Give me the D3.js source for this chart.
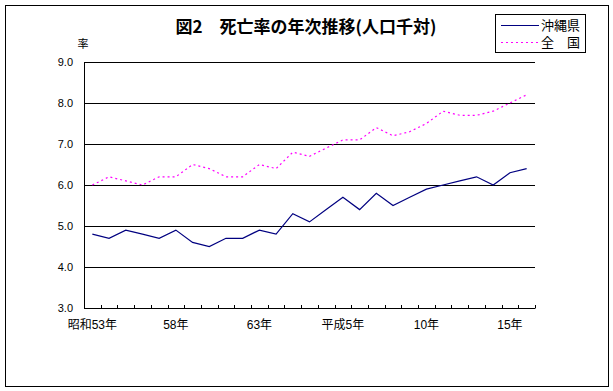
<!DOCTYPE html>
<html>
<head>
<meta charset="utf-8">
<style>
  body { margin: 0; background: #fff; }
  text { font-family: "Liberation Sans", "Noto Sans CJK JP", sans-serif; fill: #000; }
</style>
<title>図2 死亡率の年次推移</title>
</head>
<body>
<script src="https://cdn.jsdelivr.net/npm/d3@7/dist/d3.min.js"></script>
<script>
  // years: 昭和53年 .. 平成16年
  var years = ["S53","S54","S55","S56","S57","S58","S59","S60","S61","S62","S63",
               "H1","H2","H3","H4","H5","H6","H7","H8","H9","H10","H11","H12","H13","H14","H15","H16"];
  var okinawa = [4.8,4.7,4.9,4.8,4.7,4.9,4.6,4.5,4.7,4.7,4.9,4.8,5.3,5.1,5.4,5.7,5.4,5.8,5.5,5.7,5.9,6.0,6.1,6.2,6.0,6.3,6.4];
  var zenkoku = [6.0,6.2,6.1,6.0,6.2,6.2,6.5,6.4,6.2,6.2,6.5,6.4,6.8,6.7,6.9,7.1,7.1,7.4,7.2,7.3,7.5,7.8,7.7,7.7,7.8,8.0,8.2];
  var tickYears = ["S53","S58","S63","H5","H10","H15"];
  var tickLabels = ["昭和53年","58年","63年","平成5年","10年","15年"];
  var yTicks = [3,4,5,6,7,8,9];

  var W = 613, H = 391;
  var svg = d3.select("body").append("svg")
    .attr("width", W).attr("height", H);

  // outer frame
  svg.append("rect")
    .attr("x", 5.5).attr("y", 5.5)
    .attr("width", 603).attr("height", 381)
    .attr("fill", "none").attr("stroke", "#000");

  var x = d3.scaleBand().domain(years).range([84, 535]);
  var y = d3.scaleLinear().domain([3, 9]).range([308, 62]);

  // gridlines
  svg.append("g").selectAll("line")
    .data(yTicks.slice(1))
    .enter().append("line")
    .attr("x1", 84).attr("x2", 535)
    .attr("y1", d => Math.round(y(d)) + 0.5)
    .attr("y2", d => Math.round(y(d)) + 0.5)
    .attr("stroke", "#000");

  // y axis
  svg.append("line")
    .attr("x1", 84.5).attr("x2", 84.5)
    .attr("y1", y(9)).attr("y2", y(3) + 0.5)
    .attr("stroke", "#000");
  svg.append("g").selectAll("text")
    .data(yTicks)
    .enter().append("text")
    .attr("x", 73)
    .attr("y", d => y(d) + 4)
    .attr("text-anchor", "end")
    .style("font-size", "11px")
    .text(d => d.toFixed(1));

  // x axis
  svg.append("line")
    .attr("x1", 84).attr("x2", 535.5)
    .attr("y1", y(3) + 0.5).attr("y2", y(3) + 0.5)
    .attr("stroke", "#000");
  var bounds = years.map(d => x(d)).concat([x.range()[1]]);
  svg.append("g").selectAll("line")
    .data(bounds)
    .enter().append("line")
    .attr("x1", d => Math.round(d) + 0.5).attr("x2", d => Math.round(d) + 0.5)
    .attr("y1", y(3) - 3).attr("y2", y(3))
    .attr("stroke", "#000");
  svg.append("g").selectAll("text")
    .data(tickYears)
    .enter().append("text")
    .attr("x", d => x(d) + x.bandwidth() / 2)
    .attr("y", 329)
    .attr("text-anchor", "middle")
    .style("font-size", "12px")
    .text((d, i) => tickLabels[i]);

  // lines
  var line = d3.line()
    .x((d, i) => x(years[i]) + x.bandwidth() / 2)
    .y(d => y(d));
  svg.append("path").datum(zenkoku)
    .attr("d", line)
    .attr("fill", "none")
    .attr("stroke", "#ff00ff")
    .attr("stroke-width", 1.2)
    .attr("stroke-dasharray", "2,3");
  svg.append("path").datum(okinawa)
    .attr("d", line)
    .attr("fill", "none")
    .attr("stroke", "#000080")
    .attr("stroke-width", 1.2);

  // titles
  svg.append("text")
    .attr("x", 306).attr("y", 33)
    .attr("text-anchor", "middle")
    .style("font-size", "17px")
    .style("font-weight", "bold")
    .style("font-family", "'Noto Sans CJK JP', sans-serif")
    .text("図2　死亡率の年次推移(人口千対)");
  svg.append("text")
    .attr("x", 83).attr("y", 48)
    .attr("text-anchor", "middle")
    .style("font-size", "11px")
    .text("率");

  // legend
  var lg = svg.append("g");
  lg.append("rect")
    .attr("x", 495.5).attr("y", 14.5)
    .attr("width", 90).attr("height", 38)
    .attr("fill", "#fff").attr("stroke", "#000");
  lg.append("line")
    .attr("x1", 501).attr("x2", 539).attr("y1", 25.5).attr("y2", 25.5)
    .attr("stroke", "#000080");
  lg.append("line")
    .attr("x1", 501).attr("x2", 539).attr("y1", 42.5).attr("y2", 42.5)
    .attr("stroke", "#ff00ff").attr("stroke-dasharray", "2,3");
  lg.append("text")
    .attr("x", 541).attr("y", 30)
    .style("font-size", "13px")
    .text("沖縄県");
  lg.append("text")
    .attr("x", 541).attr("y", 47)
    .style("font-size", "13px")
    .text("全　国");
</script>
</body>
</html>
